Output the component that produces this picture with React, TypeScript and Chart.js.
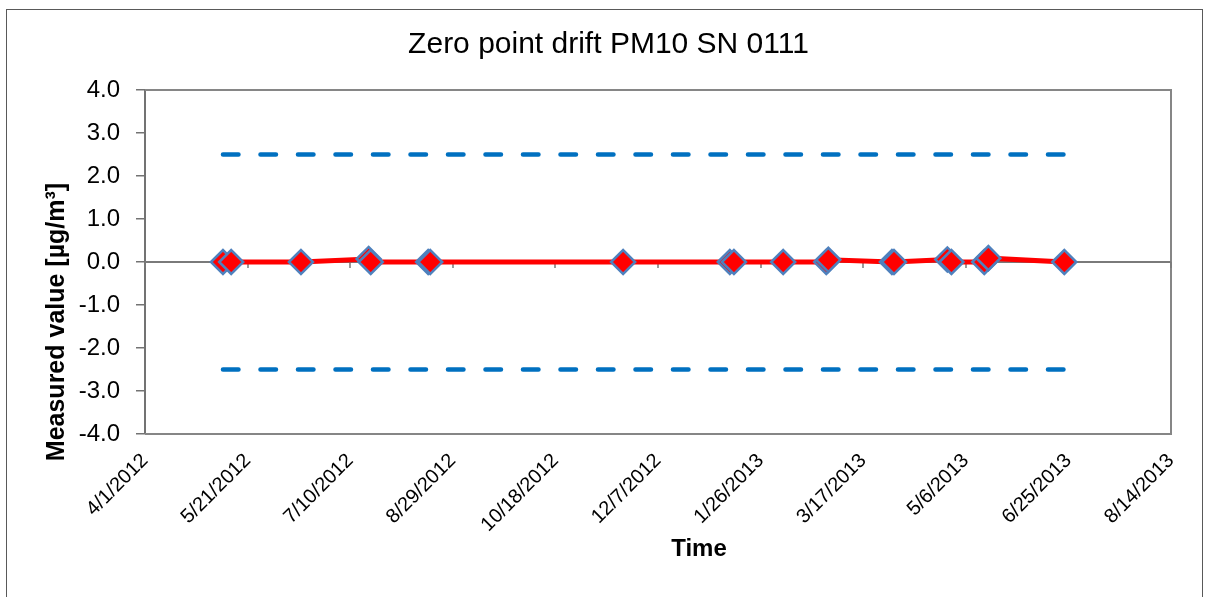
import { useEffect, useRef } from "react";
import { Chart, registerables } from "chart.js";

Chart.register(...registerables);

// ---- chart text ----
const chartTitle = "Zero point drift PM10 SN 0111";
const xAxisTitle = "Time";
const yAxisTitle = "Measured value [µg/m³]";

// ---- measurements (date, zero point reading in µg/m³) ----
const measurementDates = [
  "2012-05-09", "2012-05-13", "2012-06-16", "2012-07-19", "2012-07-20",
  "2012-08-17", "2012-08-18", "2012-11-20", "2013-01-11", "2013-01-13",
  "2013-02-06", "2013-02-27", "2013-02-28", "2013-03-31", "2013-04-01",
  "2013-04-27", "2013-04-29", "2013-05-15", "2013-05-17", "2013-06-23",
];
const measuredValues = [
  0.0, 0.0, 0.0, 0.07, 0.0,
  0.0, 0.0, 0.0, 0.0, 0.0,
  0.0, 0.0, 0.05, 0.0, 0.0,
  0.06, 0.0, 0.0, 0.09, 0.0,
];

// ---- tolerance limits ----
const limitDates = ["2012-05-09", "2013-06-23"];
const upperLimit = [2.5, 2.5];
const lowerLimit = [-2.5, -2.5];

// ---- axes ----
const axisStartDate = "2012-04-01";
const axisEndDate = "2013-08-14";
const xTickStepDays = 50;
const yMin = -4;
const yMax = 4;
const yStep = 1;

const FONT = "'Liberation Sans', Arial, Helvetica, sans-serif";
const DAY_MS = 86400000;

const toDay = (iso: string) => {
  const [y, m, d] = iso.split("-").map(Number);
  return Date.UTC(y, m - 1, d) / DAY_MS;
};
const formatDay = (day: number) => {
  const d = new Date(Math.round(day) * DAY_MS);
  return `${d.getUTCMonth() + 1}/${d.getUTCDate()}/${d.getUTCFullYear()}`;
};

// Frame, plot border, zero axis with tick marks and the axis titles
const decorations = {
  id: "decorations",
  beforeDraw(chart: any) {
    const { ctx } = chart;
    ctx.save();
    ctx.fillStyle = "#ffffff";
    ctx.fillRect(0, 0, chart.width, chart.height);
    ctx.strokeStyle = "#595959";
    ctx.lineWidth = 1;
    ctx.strokeRect(6.5, 9.5, 1196, 620);
    ctx.restore();
  },
  beforeDatasetsDraw(chart: any) {
    const { ctx, chartArea: a, scales } = chart;
    const xs = scales.x;
    const ys = scales.y;
    ctx.save();
    ctx.strokeStyle = "#868686";
    ctx.lineWidth = 2;
    ctx.beginPath();
    ctx.moveTo(a.left, a.top);
    ctx.lineTo(a.right, a.top);
    ctx.lineTo(a.right, a.bottom);
    ctx.lineTo(a.left, a.bottom);
    ctx.stroke();

    const y0 = Math.round(ys.getPixelForValue(0));
    ctx.strokeStyle = "#7a7a7a";
    ctx.beginPath();
    ctx.moveTo(a.left, y0);
    ctx.lineTo(a.right, y0);
    ctx.stroke();
    ctx.lineWidth = 1.5;
    ctx.beginPath();
    xs.ticks.forEach((t: any) => {
      const px = Math.round(xs.getPixelForValue(t.value));
      ctx.moveTo(px, y0);
      ctx.lineTo(px, y0 + 6);
    });
    ctx.stroke();
    ctx.restore();
  },
  afterDraw(chart: any) {
    const { ctx } = chart;
    ctx.save();
    ctx.fillStyle = "#000000";
    ctx.textAlign = "center";
    ctx.textBaseline = "middle";
    ctx.font = `bold 24px ${FONT}`;
    ctx.fillText(xAxisTitle, 699, 549);
    ctx.translate(57, 322);
    ctx.rotate(-Math.PI / 2);
    ctx.font = `bold 25px ${FONT}`;
    ctx.fillText(yAxisTitle, 0, 0);
    ctx.restore();
  },
};

export default function App() {
  const canvasRef = useRef<HTMLCanvasElement | null>(null);

  useEffect(() => {
    const canvas = canvasRef.current;
    if (!canvas) return;

    const measured = measurementDates.map((d, i) => ({ x: toDay(d), y: measuredValues[i] }));
    const upper = limitDates.map((d, i) => ({ x: toDay(d), y: upperLimit[i] }));
    const lower = limitDates.map((d, i) => ({ x: toDay(d), y: lowerLimit[i] }));

    const limitStyle = {
      borderColor: "#0070C0",
      borderWidth: 4.5,
      borderDash: [15.5, 22],
      borderCapStyle: "round" as const,
      pointRadius: 0,
      fill: false,
    };

    const chart = new Chart(canvas, {
      type: "line",
      data: {
        datasets: [
          { label: "Upper limit", data: upper, ...limitStyle },
          { label: "Lower limit", data: lower, ...limitStyle },
          {
            label: "Zero point",
            data: measured,
            borderColor: "#FF0000",
            borderWidth: 5,
            pointStyle: "rectRot",
            pointRadius: 12,
            pointBorderWidth: 2.5,
            pointBackgroundColor: "#FF0000",
            pointBorderColor: "#4F81BD",
            fill: false,
          },
        ],
      },
      plugins: [decorations],
      options: {
        animation: false,
        responsive: false,
        devicePixelRatio: 1,
        layout: { padding: { left: 46, right: 40, top: 0, bottom: 0 } },
        plugins: {
          legend: { display: false },
          tooltip: { enabled: false },
          title: {
            display: true,
            text: chartTitle,
            color: "#000000",
            font: { family: FONT, size: 30, weight: "normal", lineHeight: 1.2 },
            padding: { top: 27, bottom: 27 },
          },
        },
        scales: {
          x: {
            type: "linear",
            position: "bottom",
            min: toDay(axisStartDate),
            max: toDay(axisEndDate),
            afterFit: (s: any) => {
              s.height = 163;
              s.paddingLeft = 0;
              s.paddingRight = 0;
            },
            grid: { display: false, drawTicks: false, tickLength: 0 },
            border: { display: false },
            ticks: {
              stepSize: xTickStepDays,
              autoSkip: false,
              minRotation: 45,
              maxRotation: 45,
              padding: 15,
              color: "#000000",
              font: { family: FONT, size: 20 },
              callback: (v: any) => formatDay(Number(v)),
            },
          },
          y: {
            min: yMin,
            max: yMax,
            afterFit: (s: any) => {
              s.width = 99;
              s.paddingTop = 0;
              s.paddingBottom = 0;
            },
            grid: {
              drawOnChartArea: false,
              drawTicks: true,
              tickLength: 9,
              color: "#737373",
              lineWidth: 1.5,
            },
            border: { display: true, color: "#737373", width: 2 },
            ticks: {
              stepSize: yStep,
              padding: 16,
              color: "#000000",
              font: { family: FONT, size: 24 },
              callback: (v: any) => Number(v).toFixed(1),
            },
          },
        },
      },
    });

    return () => chart.destroy();
  }, []);

  return (
    <canvas
      ref={canvasRef}
      width={1211}
      height={597}
      style={{ position: "fixed", left: 0, top: 0, display: "block" }}
    />
  );
}
